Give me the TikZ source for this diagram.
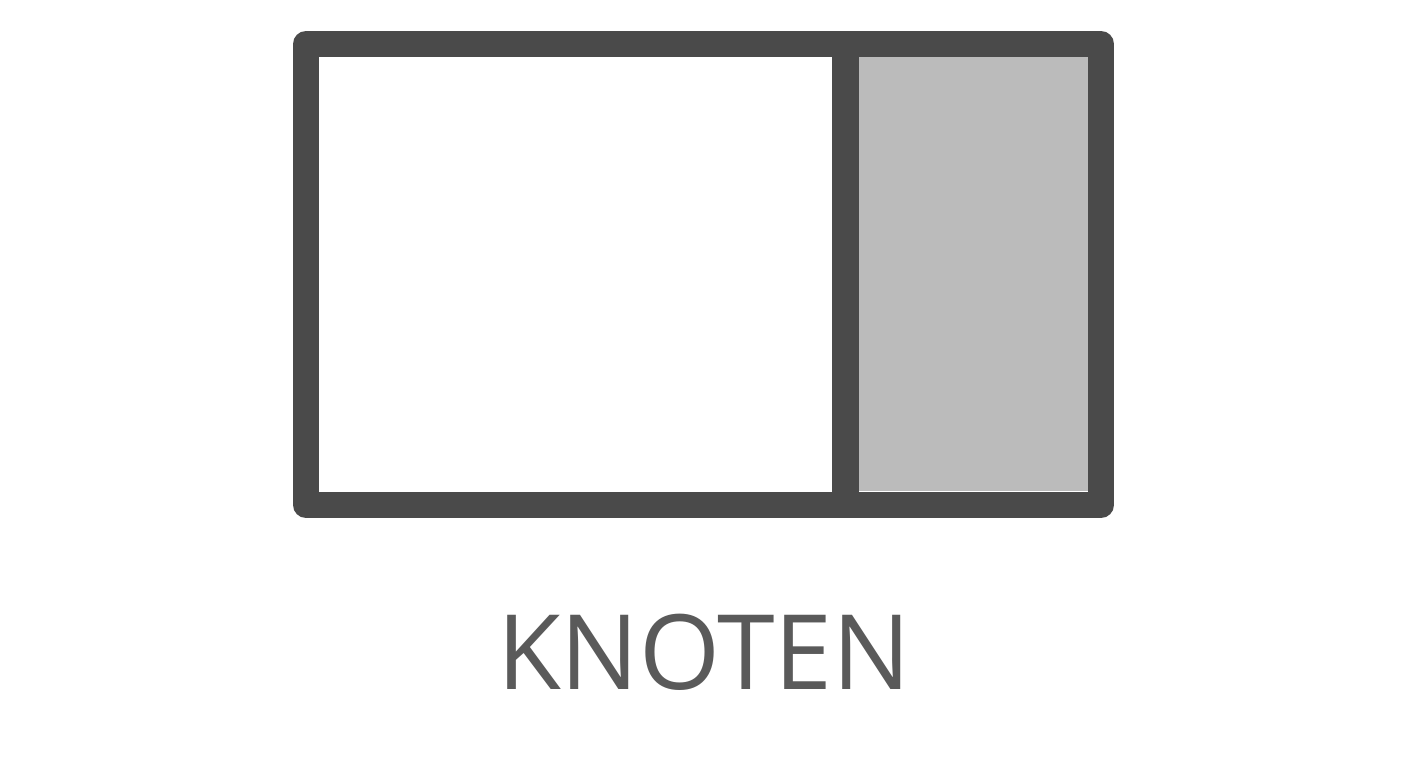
\documentclass[tikz,border=0pt]{standalone}
\usepackage{fontspec}
\setmainfont{Open Sans}
\usepackage{tikz}

\definecolor{rahmen}{HTML}{4A4A4A}
\definecolor{fach}{HTML}{BBBBBB}
\definecolor{schrift}{HTML}{5A5A5A}

\begin{document}
\begin{tikzpicture}[x=1pt, y=-1pt, every node/.style={inner sep=0pt, outer sep=0pt}]
	\tikzset{panel/.style={rectangle, minimum width=#1}}
	\useasboundingbox[fill=white] (0,0) rectangle (1408,768);
	\node[panel=230pt, minimum height=434pt, fill=fach] (n1) at (974,274) {};
	\node[panel=27pt, minimum height=461pt, fill=rahmen] (n2) at (845.5,274.5) {};
	\node[panel=795pt, minimum height=461pt, draw=rahmen, line width=26pt, line join=round] (n3) at (703.5,274.5) {};
	\node[anchor=base, text=schrift, font=\fontsize{104}{108}\selectfont] (n4) at (704,689) {KNOTEN};
\end{tikzpicture}
\end{document}
